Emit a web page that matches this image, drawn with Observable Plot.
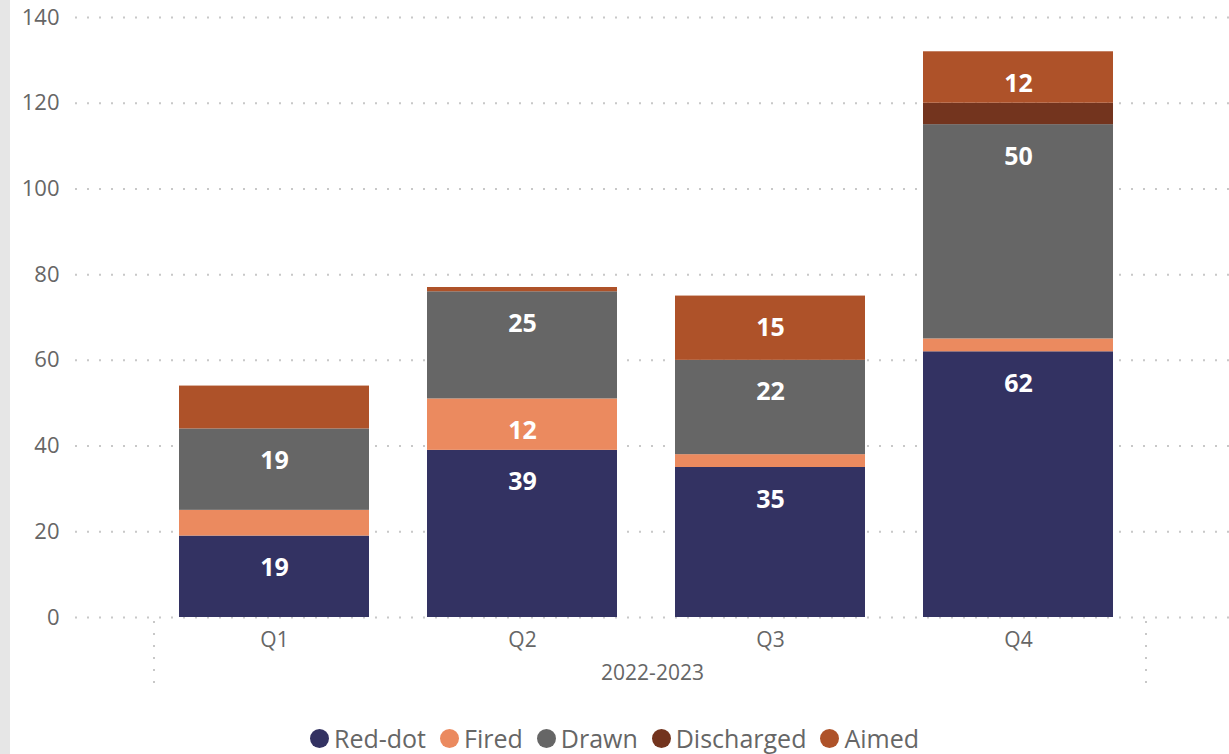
<!DOCTYPE html>
<html>
<head>
<meta charset="utf-8">
<script src="https://cdn.jsdelivr.net/npm/d3@7"></script>
<script src="https://cdn.jsdelivr.net/npm/@observablehq/plot@0.6"></script>
<style>
  html, body { margin: 0; padding: 0; }
  body { width: 1229px; height: 754px; overflow: hidden; position: relative;
         background: linear-gradient(to right, #e6e6e6 0 10px, #ffffff 10px); font-family: "Open Sans", sans-serif; }
  #legend { display: flex; justify-content: center; align-items: center; height: 30px; margin-top: 23px;
            font-size: 25px; color: #666; }
  .item { display: flex; align-items: center; margin: 0 7px; }
  .dot { width: 19px; height: 19px; border-radius: 50%; margin-right: 5px; }
</style>
</head>
<body>
<div id="chart"></div>
<div id="legend"></div>
<script>
const quarters = ["Q1", "Q2", "Q3", "Q4"];
const series = ["Red-dot", "Fired", "Drawn", "Discharged", "Aimed"];
const seriesColors = ["#333262", "#EB8A5F", "#666666", "#73341E", "#AE5229"];
const redDot = [19, 39, 35, 62];
const fired = [6, 12, 3, 3];
const drawn = [19, 25, 22, 50];
const discharged = [0, 0, 0, 5];
const aimed = [10, 1, 15, 12];
const yTicks = [0, 20, 40, 60, 80, 100, 120, 140];
const groupLabel = "2022-2023";

const valuesBySeries = [redDot, fired, drawn, discharged, aimed];
const rows = quarters.flatMap((q, i) =>
  series.map((s, j) => ({quarter: q, series: s, value: valuesBySeries[j][i]}))
);

const chart = Plot.plot({
  width: 1229,
  height: 700,
  marginTop: 17,
  marginBottom: 83,
  marginLeft: 75,
  marginRight: 0,
  style: {fontFamily: "Open Sans", background: "transparent", color: "#666"},
  x: {domain: quarters, range: [150, 1142], paddingInner: 0.234, paddingOuter: 0.117, label: null, axis: null},
  y: {domain: [0, 140], label: null, axis: null},
  color: {domain: series, range: seriesColors},
  marks: [
    Plot.ruleY(yTicks, {stroke: "#c8c8c8", strokeWidth: 2, strokeDasharray: "2 10"}),
    Plot.barY(rows, {x: "quarter", y: "value", fill: "series"}),
    Plot.text(rows, Plot.stackY2({
      x: "quarter", y: "value", z: "series",
      text: d => d.value >= 11 ? String(d.value) : null,
      fill: "white", fontWeight: "bold", fontSize: 25, dy: 32
    })),
    // y tick labels
    Plot.text(yTicks, {y: d => d, text: d => String(d), frameAnchor: "left", textAnchor: "end", dx: -16, fontSize: 22, fill: "#666"}),
    // x tick labels
    Plot.text(quarters, {x: d => d, text: d => d, frameAnchor: "bottom", lineAnchor: "middle", dy: 23, fontSize: 21, fill: "#666"}),
    Plot.text([groupLabel], {text: d => d, frameAnchor: "bottom", lineAnchor: "middle", dy: 56, fontSize: 21, fill: "#666"})
  ]
});
document.getElementById("chart").appendChild(chart);

// group separators of the hierarchical x axis
const xs = chart.scale("x");
const ys = chart.scale("y");
const y0 = ys.apply(0);
const svg = d3.select(chart);
[xs.range[0] + 4, xs.range[1] + 4].forEach(xp => {
  svg.append("line")
    .attr("x1", xp).attr("x2", xp)
    .attr("y1", y0 + 4).attr("y2", y0 + 76)
    .attr("stroke", "#c8c8c8").attr("stroke-width", 2).attr("stroke-dasharray", "2 10");
});

const legend = document.getElementById("legend");
series.forEach((s, i) => {
  const item = document.createElement("div");
  item.className = "item";
  const dot = document.createElement("span");
  dot.className = "dot";
  dot.style.background = seriesColors[i];
  const label = document.createElement("span");
  label.textContent = s;
  item.appendChild(dot);
  item.appendChild(label);
  legend.appendChild(item);
});
</script>
</body>
</html>
